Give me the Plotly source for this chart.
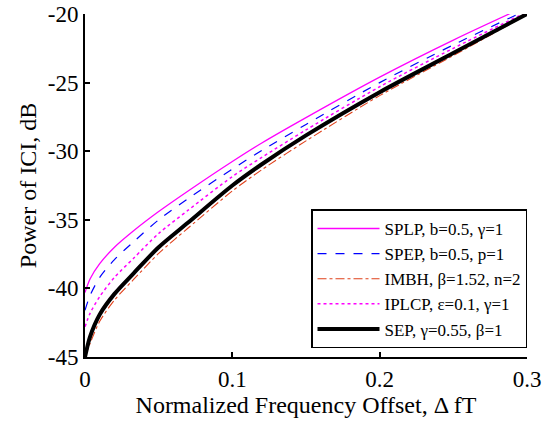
import plotly.graph_objects as go

x_offset = [0, 0.0035, 0.01, 0.02, 0.033, 0.05, 0.07, 0.1, 0.12, 0.15, 0.2, 0.25, 0.3]
splp = [-40.3, -39.3, -38.2, -37.0, -35.8, -34.4, -32.9, -30.75, -29.4, -27.55, -24.6, -21.9, -19.4]
spep = [-41.6, -40.5, -39.2, -37.9, -36.6, -35.0, -33.45, -31.3, -29.95, -28.05, -25.0, -22.25, -19.7]
imbh = [-45.0, -44.0, -42.4, -40.85, -39.35, -37.45, -35.6, -32.9, -31.35, -29.25, -25.95, -23.03, -20.05]
iplcp = [-42.8, -41.8, -40.6, -39.2, -37.8, -36.0, -34.3, -31.85, -30.45, -28.45, -25.3, -22.5, -19.85]
sep = [-45.0, -43.5, -41.9, -40.4, -38.9, -37.0, -35.2, -32.5, -30.95, -28.85, -25.7, -22.85, -20.0]

names = ["SPLP, b=0.5, γ=1", "SPEP, b=0.5, p=1", "IMBH, β=1.52, n=2",
         "IPLCP, ε=0.1, γ=1", "SEP, γ=0.55, β=1"]
x_ticks = [0, 0.1, 0.2, 0.3]
x_ticklabels = ["0", "0.1", "0.2", "0.3"]
y_ticks = [-45, -40, -35, -30, -25, -20]
y_ticklabels = ["-45", "-40", "-35", "-30", "-25", "-20"]

series = [splp, spep, imbh, iplcp, sep]
styles = [
    dict(color="#ff00ff", width=1.3, dash="solid"),
    dict(color="#0000ff", width=1.2, dash="dash"),
    dict(color="#e0401a", width=1.1, dash="dashdot"),
    dict(color="#ff00ff", width=1.5, dash="dot"),
    dict(color="#000000", width=4, dash="solid"),
]

fig = go.Figure()
for name, ys, st in zip(names, series, styles):
    fig.add_trace(go.Scatter(x=x_offset, y=ys, mode="lines", name=name,
                             line=dict(shape="spline", smoothing=0.8, **st)))

font = "Liberation Serif"
fig.update_layout(
    width=545, height=422,
    margin=dict(l=85, r=18, t=14, b=65, autoexpand=False),
    paper_bgcolor="white", plot_bgcolor="white",
    font=dict(family=font, size=23, color="black"),
    showlegend=True,
    legend=dict(x=1, xanchor="right", y=0.025, yanchor="bottom",
                bordercolor="black", borderwidth=1.5, bgcolor="white",
                font=dict(family=font, size=17), itemwidth=62,
                tracegroupgap=0),
    xaxis=dict(range=[0, 0.3], tickvals=x_ticks, ticktext=x_ticklabels,
               ticks="inside", ticklen=5, tickwidth=1.5, tickcolor="black",
               tickfont=dict(size=23), automargin=False,
               showline=True, linecolor="black", linewidth=2, showgrid=False,
               zeroline=False, title=dict(text="Normalized Frequency Offset, Δ fT",
                                          font=dict(size=24), standoff=6)),
    yaxis=dict(range=[-45, -20], tickvals=y_ticks, ticktext=y_ticklabels,
               ticks="inside", ticklen=5, tickwidth=1.5, tickcolor="black",
               tickfont=dict(size=23), automargin=False,
               showline=True, linecolor="black", linewidth=2, showgrid=False,
               zeroline=False, title=dict(text="Power of ICI, dB",
                                          font=dict(size=24), standoff=4)),
)
fig.write_html("out.html")
